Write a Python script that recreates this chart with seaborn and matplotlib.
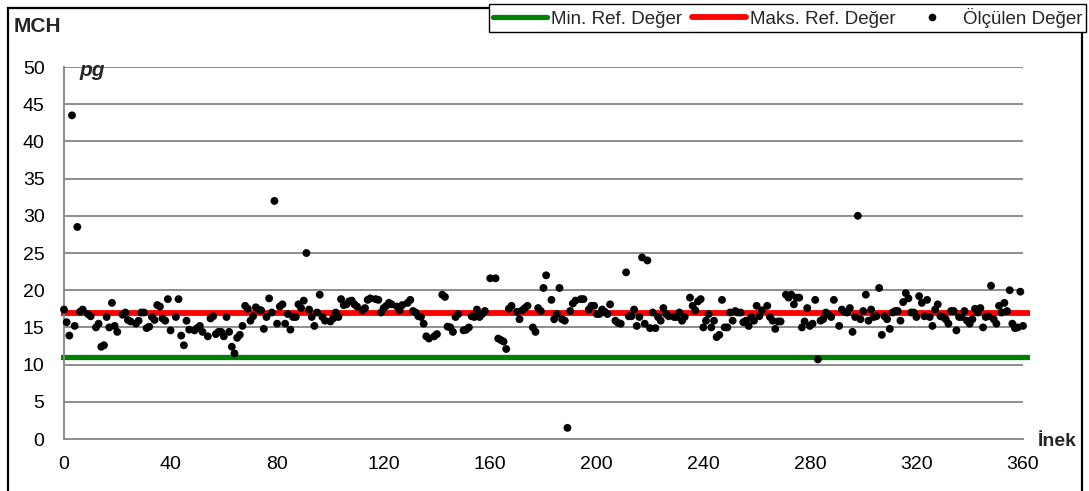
import matplotlib
matplotlib.use("Agg")
import matplotlib.pyplot as plt
from matplotlib.lines import Line2D
from matplotlib.patches import Rectangle
import seaborn as sns

# Cow index (İnek) and measured MCH values (pg)
inek = [
    0, 1, 2, 3, 4, 5, 6, 7, 9, 10, 12, 13, 14, 15, 16, 17, 18, 19, 20, 22,
    23, 24, 25, 27, 28, 29, 30, 31, 32, 33, 34, 35, 36, 37, 38, 39, 40, 42, 43, 44,
    45, 46, 47, 49, 50, 51, 52, 54, 55, 56, 57, 58, 59, 60, 61, 62, 63, 64, 65, 66,
    67, 68, 69, 70, 71, 72, 73, 74, 75, 76, 77, 78, 79, 80, 81, 82, 83, 84, 85, 86,
    87, 88, 89, 90, 91, 92, 93, 94, 95, 96, 97, 98, 100, 101, 102, 103, 104, 105, 106, 107,
    108, 109, 110, 112, 113, 114, 115, 117, 118, 119, 120, 121, 122, 123, 125, 126, 127, 129, 130, 131,
    132, 133, 134, 135, 136, 137, 139, 140, 142, 143, 144, 145, 146, 147, 148, 150, 151, 152, 153, 154,
    155, 156, 157, 158, 160, 162, 163, 164, 165, 166, 167, 168, 170, 171, 172, 173, 174, 176, 177, 178,
    179, 180, 181, 183, 184, 185, 186, 187, 188, 189, 190, 191, 192, 194, 195, 197, 198, 199, 200, 201,
    202, 203, 204, 205, 207, 208, 209, 211, 212, 213, 214, 215, 216, 217, 218, 219, 220, 221, 222, 223,
    224, 225, 226, 227, 229, 230, 231, 232, 233, 235, 236, 237, 238, 239, 240, 241, 242, 243, 244, 245,
    246, 247, 248, 249, 250, 251, 252, 253, 254, 255, 256, 257, 258, 259, 260, 261, 262, 264, 265, 266,
    267, 268, 269, 271, 272, 273, 274, 275, 276, 277, 278, 279, 280, 281, 282, 283, 284, 285, 286, 287,
    288, 289, 291, 292, 293, 294, 295, 296, 297, 298, 299, 300, 301, 302, 303, 304, 305, 306, 307, 308,
    309, 310, 311, 312, 313, 314, 315, 316, 317, 318, 319, 320, 321, 322, 323, 324, 325, 326, 327, 328,
    329, 330, 331, 332, 333, 334, 335, 336, 337, 338, 339, 340, 341, 342, 343, 344, 345, 346, 347, 348,
    349, 350, 351, 352, 353, 354, 355, 356, 357, 358, 359, 360,
]
olculen = [
    17.4, 15.7, 13.9, 43.5, 15.2, 28.5, 17.1, 17.4, 16.8, 16.5, 15.0, 15.5, 12.4, 12.6, 16.4, 15.0, 18.3, 15.2, 14.4, 16.7,
    17.0, 16.0, 15.8, 15.5, 15.9, 17.0, 17.0, 14.9, 15.1, 16.4, 16.0, 18.0, 17.8, 16.2, 15.9, 18.8, 14.6, 16.4, 18.8, 13.9,
    12.6, 15.9, 14.7, 14.6, 14.9, 15.2, 14.4, 13.8, 16.2, 16.5, 14.1, 14.4, 14.4, 13.8, 16.4, 14.4, 12.4, 11.5, 13.6, 14.0,
    15.2, 17.9, 17.5, 15.9, 16.5, 17.7, 17.4, 17.3, 14.8, 16.4, 18.9, 17.0, 32.0, 15.5, 17.8, 18.1, 15.5, 16.8, 14.7, 16.4,
    16.4, 18.1, 17.6, 18.6, 25.0, 17.4, 16.4, 15.2, 17.0, 19.4, 16.4, 15.9, 15.8, 16.2, 17.0, 16.4, 18.8, 18.0, 18.1, 18.5,
    18.6, 18.1, 17.8, 17.3, 17.6, 18.7, 18.9, 18.8, 18.7, 17.0, 17.6, 17.9, 18.3, 18.1, 17.8, 17.3, 18.0, 18.3, 18.7, 17.2,
    17.0, 16.5, 16.4, 15.5, 13.8, 13.5, 13.8, 14.1, 19.4, 19.1, 15.1, 15.0, 14.4, 16.4, 16.8, 14.6, 14.7, 15.0, 16.5, 16.4,
    17.4, 16.4, 16.8, 17.2, 21.6, 21.6, 13.5, 13.3, 13.1, 12.1, 17.5, 17.9, 17.1, 16.1, 17.3, 17.6, 17.9, 15.0, 14.4, 17.6,
    17.2, 20.3, 22.0, 18.7, 16.1, 16.8, 20.3, 16.1, 15.9, 1.5, 17.2, 18.2, 18.6, 18.8, 18.8, 17.4, 17.9, 17.9, 16.8, 16.8,
    17.4, 17.1, 16.8, 18.1, 15.9, 15.6, 15.5, 22.4, 16.5, 16.5, 17.4, 15.2, 16.4, 24.4, 15.5, 24.0, 14.9, 17.0, 14.9, 16.4,
    15.9, 17.6, 16.8, 16.5, 16.4, 16.4, 17.0, 15.9, 16.4, 19.0, 17.9, 17.3, 18.5, 18.8, 15.0, 15.9, 16.8, 15.0, 15.9, 13.7,
    14.0, 18.7, 15.0, 15.0, 17.0, 15.9, 17.2, 17.0, 17.0, 15.7, 15.9, 15.2, 16.4, 15.9, 17.9, 16.5, 17.3, 17.9, 16.4, 15.9,
    14.8, 15.8, 15.8, 19.4, 19.0, 19.4, 18.1, 19.0, 19.0, 15.0, 15.8, 17.6, 15.2, 15.5, 18.7, 10.7, 15.9, 16.1, 17.0, 16.7,
    16.4, 18.7, 15.2, 17.4, 17.1, 17.0, 17.6, 14.4, 16.4, 30.0, 16.1, 17.2, 19.4, 15.9, 17.4, 16.4, 16.5, 20.3, 14.0, 16.5,
    16.1, 14.8, 17.0, 17.2, 17.2, 15.9, 18.4, 19.6, 18.9, 17.0, 17.0, 16.4, 19.2, 18.3, 16.5, 18.7, 16.4, 15.2, 17.4, 18.1,
    16.5, 16.4, 16.1, 15.5, 17.2, 17.2, 14.6, 16.4, 16.4, 17.2, 15.9, 15.5, 16.1, 17.5, 17.0, 17.6, 15.0, 16.4, 16.5, 20.6,
    16.1, 15.5, 17.9, 17.0, 18.3, 17.2, 20.0, 15.5, 14.9, 15.0, 19.8, 15.2,
]

min_ref = 11.0
max_ref = 17.0
x_ticks = list(range(0, 361, 40))
y_ticks = list(range(0, 51, 5))
legend_labels = ["Min. Ref. Değer", "Maks. Ref. Değer", "Ölçülen Değer"]

sns.set_style("white")
plt.rcParams["font.family"] = ["Liberation Sans", "DejaVu Sans"]

W, H = 1089, 491
fig = plt.figure(figsize=(W / 100, H / 100), dpi=100)


def fx(px):
    return px / W


def fy(py):
    return 1 - py / H


# axes placement in pixels: x=0 -> 64 px, x=360 -> 1023 px; y=0 -> 439 px, y=50 -> 67 px
ppu = (1023 - 64) / 360.0
xmin, xmax = -1.0, 362.5
left_px = 64 + xmin * ppu
right_px = 64 + xmax * ppu
ax = fig.add_axes([fx(left_px), fy(439), (right_px - left_px) / W, (439 - 67) / H])
ax.set_xlim(xmin, xmax)
ax.set_ylim(0, 50)

grid_col = "#858585"
ax.hlines(y_ticks[1:], 0, 360, color=grid_col, lw=1.3, zorder=1)

sns.lineplot(x=[xmin, xmax], y=[min_ref, min_ref], color="#008000", lw=3.8, ax=ax, zorder=2)
sns.lineplot(x=[xmin, xmax], y=[max_ref, max_ref], color="#ff0000", lw=4.2, ax=ax, zorder=2)
sns.scatterplot(x=inek, y=olculen, color="black", s=32, edgecolor="none", ax=ax,
                zorder=3, legend=False, clip_on=False)

ax.set_xticks(x_ticks)
ax.set_yticks(y_ticks)
ax.set_xlabel("")
ax.set_ylabel("")
for side in ("top", "right"):
    ax.spines[side].set_visible(False)
ax.spines["left"].set_position(("data", 0))
ax.spines["left"].set_bounds(0, 50)
ax.spines["bottom"].set_bounds(0, 360)
for side in ("left", "bottom"):
    ax.spines[side].set_color(grid_col)
    ax.spines[side].set_linewidth(1.3)
ax.tick_params(axis="both", direction="out", length=6, width=1.2, color=grid_col,
               labelsize=14, labelcolor="black")
ax.tick_params(axis="y", pad=8)
ax.tick_params(axis="x", pad=6)

fig.text(fx(14), fy(32), "MCH", fontsize=15, fontweight="bold", va="baseline")
fig.text(fx(79), fy(76), "pg", fontsize=15, fontweight="bold", style="italic", va="baseline")
fig.text(fx(1038), fy(446), "İnek", fontsize=14, fontweight="bold", va="baseline")

# outer chart frame
fig.patches.append(Rectangle((fx(8), fy(495)), fx(1082) - fx(8), fy(8) - fy(495),
                             transform=fig.transFigure, fill=False, edgecolor="black",
                             lw=1.6, zorder=0))

handles = [
    Line2D([], [], color="#008000", lw=3.8),
    Line2D([], [], color="#ff0000", lw=4.2),
    Line2D([], [], color="black", marker="o", ls="none", markersize=4.5),
]
leg = fig.legend(handles, legend_labels, loc="upper right", bbox_to_anchor=(fx(1086), fy(4)),
                 ncol=3, frameon=True, fancybox=False, edgecolor="black", framealpha=1,
                 fontsize=13.5, handlelength=2.9, handletextpad=0.2, columnspacing=0.5,
                 borderpad=0.2, borderaxespad=0)
leg.get_frame().set_linewidth(1.0)

fig.savefig("out.png", dpi=100)
